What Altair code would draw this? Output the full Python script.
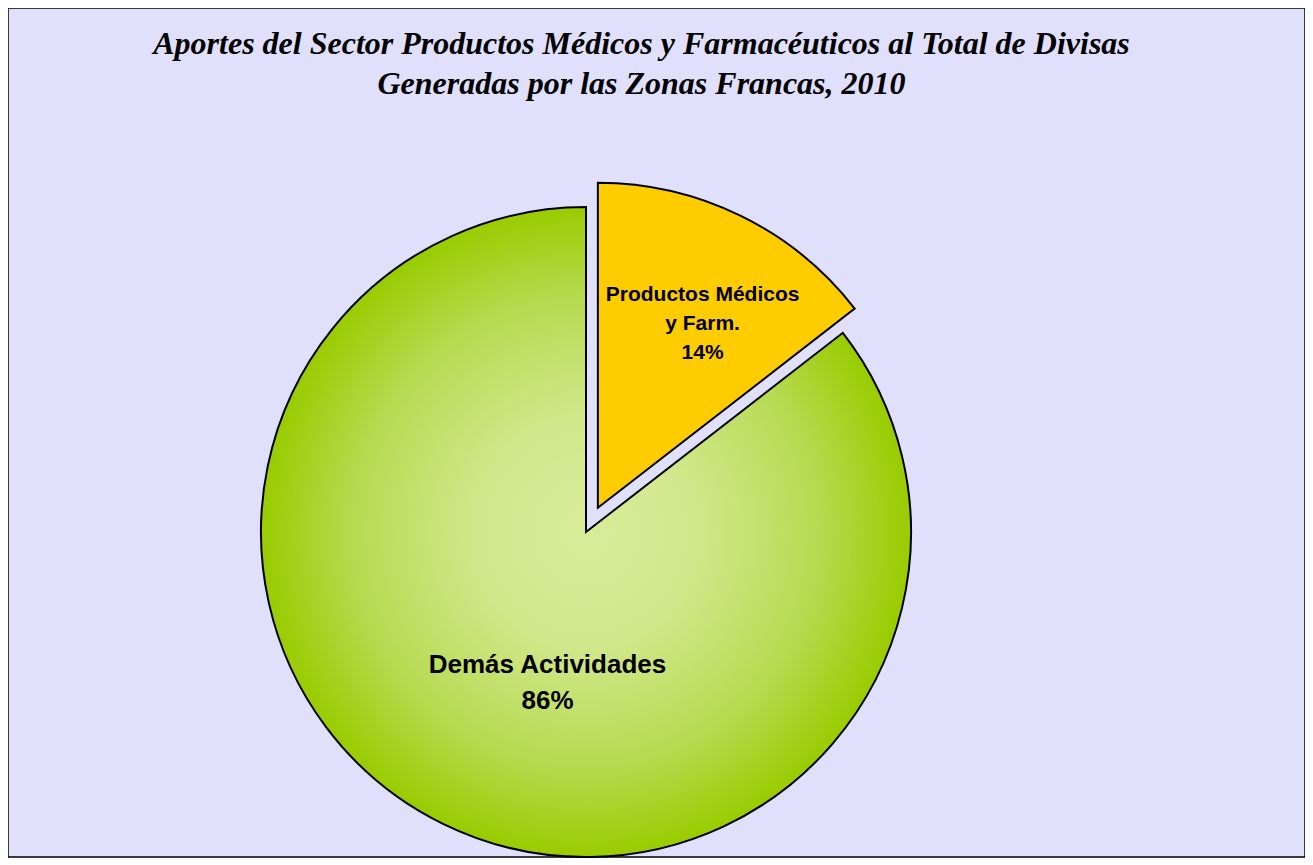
import math
import altair as alt
import pandas as pd

# ---- data ----
categories = ["Productos Médicos y Farm.", "Demás Actividades"]
shares = [14.5, 85.5]
label_text = ["Productos Médicos\ny Farm.\n14%", "Demás Actividades\n86%"]
slice_order = [1, 2]
title_lines = [
    "Aportes del Sector Productos Médicos y Farmacéuticos al Total de Divisas",
    "Generadas por las Zonas Francas, 2010",
]

df = pd.DataFrame({"categoria": categories, "valor": shares,
                   "etiqueta": label_text, "orden": slice_order})

# ---- layout ----
W, H = 1297, 849
R = 325
CX, CY = 586 - 8, 532 - 8          # pie centre inside the view
gx, gy = CX - W / 2, CY - H / 2     # offsets from view centre
EXPLODE = 27
mid = math.radians(shares[0] / 100 * 360 / 2)
yx, yy = gx + EXPLODE * math.sin(mid), gy - EXPLODE * math.cos(mid)

green_gradient = {
    "gradient": "radial",
    "x1": 0.5, "y1": 0.5, "r1": 0,
    "x2": 0.5, "y2": 0.5, "r2": 0.5,
    "stops": [
        {"offset": 0, "color": "#d9ec9a"},
        {"offset": 0.35, "color": "#d1e78a"},
        {"offset": 0.72, "color": "#b6da50"},
        {"offset": 1, "color": "#99cc00"},
    ],
}

theta_scale = alt.Scale(domain=[0, 100], range=[0, 2 * math.pi])

base = (
    alt.Chart(df)
    .transform_window(fin="sum(valor)", sort=[alt.SortField("orden")], frame=[None, 0])
    .transform_calculate(ini="datum.fin - datum.valor", medio="datum.fin - datum.valor / 2")
)

green = base.transform_filter(alt.datum.orden == 2).mark_arc(
    radius=R, stroke="black", strokeWidth=2, fill=green_gradient, xOffset=gx, yOffset=gy
).encode(
    theta=alt.Theta("ini:Q", scale=theta_scale, stack=False),
    theta2="fin:Q",
)

yellow = base.transform_filter(alt.datum.orden == 1).mark_arc(
    radius=R, stroke="black", strokeWidth=2, fill="#ffcc00", xOffset=yx, yOffset=yy
).encode(
    theta=alt.Theta("ini:Q", scale=theta_scale, stack=False),
    theta2="fin:Q",
)

green_text = base.transform_filter(alt.datum.orden == 2).mark_text(
    radius=158, xOffset=gx, yOffset=gy, dx=31, dy=-9,
    font="Liberation Sans", fontWeight="bold", fontSize=26, lineBreak="\n",
    lineHeight=36, align="center", baseline="middle", color="black",
).encode(
    theta=alt.Theta("medio:Q", scale=theta_scale, stack=False),
    text="etiqueta:N",
)

yellow_text = base.transform_filter(alt.datum.orden == 1).mark_text(
    radius=213, xOffset=yx, yOffset=yy, dx=11, dy=-21,
    font="Liberation Sans", fontWeight="bold", fontSize=21, lineBreak="\n",
    lineHeight=29, align="center", baseline="middle", color="black",
).encode(
    theta=alt.Theta("medio:Q", scale=theta_scale, stack=False),
    text="etiqueta:N",
)

chart = (
    alt.layer(green, yellow, green_text, yellow_text)
    .properties(
        width=W, height=H, padding=0,
        view=alt.ViewBackground(fill="#e0e0fd", stroke="black", strokeWidth=1.5),
        title=alt.TitleParams(
            text=title_lines, font="Liberation Serif", fontSize=32,
            fontWeight="bold", fontStyle="italic", color="black",
            anchor="middle", offset=-93, dx=-15, lineHeight=40, frame="group",
        ),
    )
)

chart.save("out.html", embed_options={"renderer": "svg", "actions": False})
